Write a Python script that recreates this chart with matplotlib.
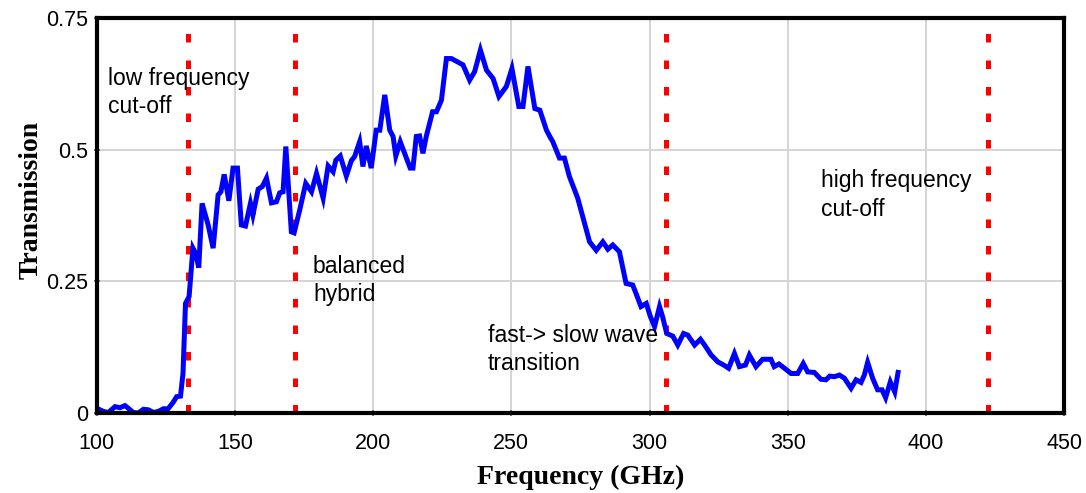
import matplotlib
matplotlib.use("Agg")
import matplotlib.pyplot as plt
import numpy as np

FREQ = [
    100.0, 102.4, 104.2, 106.6, 108.4, 110.2, 111.4, 113.2, 115.0, 116.9,
    118.7, 120.5, 122.3, 124.1, 125.8, 127.6, 128.9, 130.3, 131.2, 132.1,
    133.4, 134.8, 135.8, 136.9, 138.1, 140.3, 142.1, 143.9, 144.9, 146.1,
    147.8, 149.3, 150.9, 152.3, 153.8, 155.6, 156.5, 158.4, 159.9, 161.4,
    163.2, 165.0, 166.2, 167.4, 168.4, 170.4, 171.4, 173.4, 175.6, 177.7,
    179.5, 181.9, 183.7, 185.5, 186.5, 188.1, 190.3, 192.1, 193.3, 195.1,
    196.3, 197.5, 199.3, 201.1, 202.4, 204.2, 206.0, 207.2, 208.2, 209.8,
    211.8, 213.4, 214.4, 215.6, 216.8, 218.0, 219.2, 221.5, 222.9, 224.7,
    226.5, 228.3, 232.5, 234.9, 236.7, 238.8, 241.0, 243.4, 245.5, 248.2,
    250.2, 252.7, 254.2, 256.0, 258.5, 260.3, 262.7, 263.9, 265.0, 267.4,
    269.2, 271.0, 274.0, 275.8, 278.3, 280.7, 283.1, 284.9, 286.7, 289.1,
    291.5, 293.9, 295.1, 296.9, 298.8, 300.3, 301.8, 303.6, 304.7, 306.2,
    308.4, 310.2, 312.3, 313.8, 316.3, 318.4, 319.9, 322.3, 324.7, 326.5,
    328.6, 330.7, 332.5, 334.7, 336.1, 338.5, 340.9, 343.9, 345.1, 346.8,
    348.8, 351.2, 353.6, 355.6, 357.2, 359.6, 362.0, 363.8, 365.2, 366.9,
    368.7, 370.5, 372.9, 374.7, 376.5, 377.7, 378.9, 380.7, 382.5, 384.1,
    385.4, 387.1, 388.7, 389.9,
]
TRANS = [
    0.009, 0.003, 0.001, 0.012, 0.010, 0.014, 0.009, 0.001, 0.000, 0.007,
    0.006, 0.001, 0.003, 0.008, 0.008, 0.020, 0.031, 0.032, 0.075, 0.208,
    0.221, 0.313, 0.303, 0.276, 0.398, 0.357, 0.313, 0.414, 0.420, 0.453,
    0.403, 0.465, 0.465, 0.357, 0.355, 0.398, 0.376, 0.425, 0.430, 0.446,
    0.399, 0.401, 0.418, 0.420, 0.506, 0.344, 0.342, 0.385, 0.436, 0.420,
    0.455, 0.408, 0.469, 0.458, 0.480, 0.488, 0.450, 0.479, 0.487, 0.515,
    0.468, 0.507, 0.465, 0.537, 0.537, 0.604, 0.537, 0.525, 0.488, 0.515,
    0.487, 0.465, 0.465, 0.525, 0.526, 0.493, 0.525, 0.572, 0.572, 0.594,
    0.673, 0.673, 0.661, 0.632, 0.648, 0.689, 0.651, 0.635, 0.601, 0.620,
    0.654, 0.582, 0.582, 0.658, 0.578, 0.575, 0.537, 0.525, 0.515, 0.484,
    0.484, 0.449, 0.408, 0.373, 0.325, 0.309, 0.325, 0.311, 0.319, 0.306,
    0.246, 0.243, 0.227, 0.202, 0.208, 0.183, 0.164, 0.202, 0.183, 0.151,
    0.146, 0.129, 0.151, 0.148, 0.129, 0.140, 0.129, 0.110, 0.097, 0.092,
    0.085, 0.113, 0.088, 0.091, 0.110, 0.088, 0.102, 0.102, 0.088, 0.093,
    0.085, 0.075, 0.075, 0.094, 0.078, 0.077, 0.064, 0.063, 0.070, 0.069,
    0.072, 0.066, 0.047, 0.063, 0.058, 0.072, 0.096, 0.066, 0.044, 0.044,
    0.029, 0.059, 0.040, 0.077,
]

CUTOFFS = [133.1, 171.9, 305.8, 422.4]

LABELS = [
    (104.0, 0.609, "low frequency\ncut-off"),
    (178.2, 0.252, "balanced\nhybrid"),
    (241.4, 0.120, "fast-> slow wave\ntransition"),
    (362.1, 0.414, "high frequency\ncut-off"),
]

X_TICKS = [100, 150, 200, 250, 300, 350, 400, 450]
Y_TICKS = [0, 0.25, 0.5, 0.75]
Y_TICK_LABELS = ["0", "0.25", "0.5", "0.75"]


def main() -> None:
    plt.rcParams["font.family"] = ["Liberation Sans", "DejaVu Sans"]
    fig = plt.figure(figsize=(10.86, 4.93), dpi=100)
    ax = fig.add_axes([0.0891, 0.1623, 0.8908, 0.8012])

    for x in CUTOFFS:
        ax.axvline(x, color="#ff0000", linewidth=3.6, dashes=(1.7, 3.6), zorder=2)

    ax.plot(FREQ, TRANS, color="#0000ff", linewidth=3.6, solid_joinstyle="miter", zorder=3)

    for x, y, text in LABELS:
        ax.text(x, y, text, fontsize=16.5, va="center", ha="left", linespacing=1.3, zorder=4)

    ax.set_xlim(100, 450)
    ax.set_ylim(0, 0.75)
    ax.set_xticks(X_TICKS)
    ax.set_yticks(Y_TICKS)
    ax.set_yticklabels(Y_TICK_LABELS)
    ax.tick_params(labelsize=15.5, length=5, width=1.2, color="#606060", direction="inout")
    ax.tick_params(axis="x", pad=12)
    ax.grid(True, color="#d4d4d4", linewidth=1.4, zorder=0)
    for spine in ax.spines.values():
        spine.set_linewidth(3)
        spine.set_zorder(5)

    ax.set_xlabel("Frequency (GHz)", fontsize=20, fontweight="bold",
                  family="Liberation Serif", labelpad=8)
    ax.set_ylabel("Transmission", fontsize=20, fontweight="bold",
                  family="Liberation Serif")
    ax.yaxis.set_label_coords(-0.055, 0.54)

    fig.savefig("out.png", dpi=100)
    plt.close(fig)


if __name__ == "__main__":
    main()
